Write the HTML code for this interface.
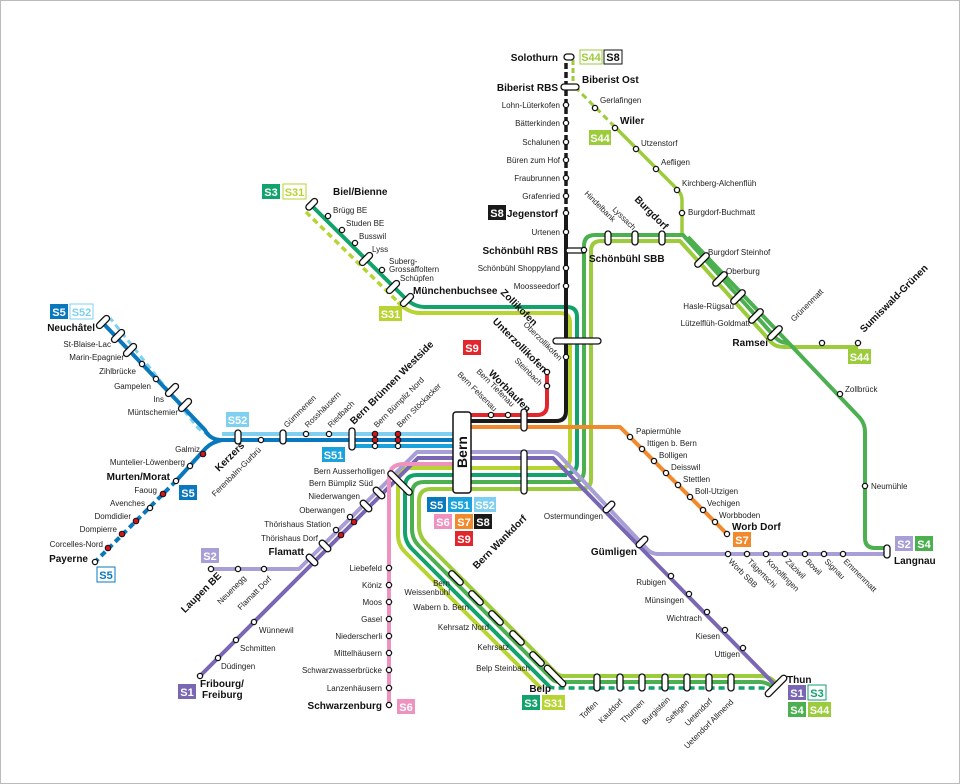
<!DOCTYPE html>
<html><head><meta charset="utf-8"><style>
html,body{margin:0;padding:0;background:#fff}
svg{display:block}
text{font-family:"Liberation Sans",sans-serif;font-size:8px;fill:#222}
.b{font-weight:bold;font-size:10px;fill:#111}
.bt{font-weight:bold;font-size:11px;fill:#fff}
.st{fill:#fff;stroke:#111;stroke-width:1.3}
.cp{fill:#fff;stroke:#111;stroke-width:1.3}
.rd{fill:#d0151c;stroke:#111;stroke-width:1}
path,line,polyline{fill:none;stroke-linejoin:round;stroke-linecap:butt}
</style></head><body>
<svg width="960" height="784" viewBox="0 0 960 784" xmlns="http://www.w3.org/2000/svg">
<rect x="0.5" y="0.5" width="959" height="783" fill="#fff" stroke="#bbb"/>

<path d="M573 60 V86" stroke="#9ccb3b" stroke-width="3" stroke-dasharray="5 3"/>
<path d="M575 87 L612 124" stroke="#9ccb3b" stroke-width="3" stroke-dasharray="6 4"/>
<path d="M612 124 L677 189 Q682 194 682 200 V236" stroke="#9ccb3b" stroke-width="3.5"/>
<path d="M584 470 V246 Q584 235 595 235 H683 L775 337 Q780 343 788 343" stroke="#4caf50" stroke-width="4"/>
<path d="M591 480 V251 Q591 241 601 241 H680 L772 343 Q776 347 784 347 H858" stroke="#9ccb3b" stroke-width="4"/>
<path d="M688 237 L860 418 Q865 424 865 432 V538 Q865 548 875 548 H886" stroke="#4caf50" stroke-width="4"/>

<path d="M311 205 L405 298 Q414 307 425 307 H567 Q577 307 577 317 V463 Q577 473 567 473" stroke="#12a26b" stroke-width="4"/>
<path d="M306 212 L398 302" stroke="#b8d432" stroke-width="3.5" stroke-dasharray="6 4"/>
<path d="M398 302 Q408 313 420 313 H560 Q570 313 570 323 V458 Q570 468 560 468" stroke="#b8d432" stroke-width="4"/>

<path d="M560 468 H410 Q398 468 398 480 V535 Q398 545 405 552 L541 688" stroke="#b8d432" stroke-width="4"/>
<path d="M567 475 H417 Q405 475 405 487 V532 Q405 542 412 549 L549 686" stroke="#12a26b" stroke-width="4"/>
<path d="M549 686 Q551 688 556 688 H762 Q768 688 774 694" stroke="#12a26b" stroke-width="3.5" stroke-dasharray="6 4"/>
<path d="M584 470 Q584 482 572 482 H424 Q412 482 412 494 V529 Q412 539 419 546 L552 679 Q555 682 560 682 H760 Q768 682 776 690" stroke="#4caf50" stroke-width="4"/>
<path d="M591 480 Q591 489 579 489 H431 Q419 489 419 501 V526 Q419 536 426 543 L556 673 Q559 676 564 676 H762 Q770 676 778 685" stroke="#9ccb3b" stroke-width="4"/>

<path d="M222 434 H453" stroke="#7fd0f0" stroke-width="4"/>
<path d="M210 434 Q204 434 198 428 L110 318" stroke="#7fd0f0" stroke-width="3" stroke-dasharray="6 4"/>
<path d="M100 320 L205 430 Q210 440 222 440 H453" stroke="#0a78bd" stroke-width="4"/>
<path d="M222 440 Q212 442 206 448 L176 481" stroke="#0a78bd" stroke-width="4"/>
<path d="M176 481 L95 562" stroke="#0a78bd" stroke-width="4" stroke-dasharray="6 4"/>
<path d="M352 446 H453" stroke="#1aa2dc" stroke-width="4"/>

<path d="M470 415 H537 Q547 415 547 405 V372" stroke="#e1272d" stroke-width="4"/>
<path d="M470 421 H556 Q566 421 566 411 V213" stroke="#1a1a1a" stroke-width="4"/>
<path d="M566 213 V60" stroke="#1a1a1a" stroke-width="3.5" stroke-dasharray="6 3"/>
<path d="M470 427 H620 L727 534" stroke="#f08a2c" stroke-width="4"/>

<path d="M211 569 H299 L417 452 H552 Q556 452 560 456 L646 548 Q651 554 658 554 H886" stroke="#a79fd6" stroke-width="4"/>
<path d="M200 676 L418 458 H553 L778 688" stroke="#7a67b4" stroke-width="4"/>
<path d="M453 464 H404 Q389 464 389 479 V705" stroke="#ee92c0" stroke-width="4"/>

<rect x="453" y="412" width="18" height="81" rx="3" fill="#fff" stroke="#111" stroke-width="1.5"/>
<text transform="translate(467,452) rotate(-90)" text-anchor="middle" class="b" style="font-size:14px">Bern</text>

<g class="cp">
<rect x="564" y="54" width="10" height="6" rx="3"/>
<rect x="561" y="84" width="18" height="6" rx="3"/>
<rect x="566" y="248" width="20" height="5" rx="2.5"/>
<rect x="553" y="338" width="48" height="6" rx="3"/>
<rect x="521" y="409" width="6" height="22" rx="3"/>
<rect x="521" y="450" width="6" height="44" rx="3"/>
<rect x="349" y="428" width="6" height="22" rx="3"/>
<rect x="235" y="430" width="6" height="14" rx="3"/>
<rect x="280" y="430" width="6" height="14" rx="3"/>
<rect x="605" y="231" width="6" height="14" rx="3"/>
<rect x="632" y="231" width="6" height="14" rx="3"/>
<rect x="659" y="231" width="6" height="14" rx="3"/>
<rect x="884" y="545" width="6" height="13" rx="3"/>
<rect x="594" y="674" width="6" height="17" rx="3"/>
<rect x="617" y="674" width="6" height="17" rx="3"/>
<rect x="639" y="674" width="6" height="17" rx="3"/>
<rect x="662" y="674" width="6" height="17" rx="3"/>
<rect x="684" y="674" width="6" height="17" rx="3"/>
<rect x="706" y="674" width="6" height="17" rx="3"/>
<rect x="728" y="674" width="6" height="17" rx="3"/>
</g>
<g class="cp">
<rect x="-3" y="-8" width="6" height="16" rx="3" transform="translate(103,322) rotate(45)"/>
<rect x="-3" y="-8" width="6" height="16" rx="3" transform="translate(118,336) rotate(45)"/>
<rect x="-3" y="-8" width="6" height="16" rx="3" transform="translate(130,350) rotate(45)"/>
<rect x="-3" y="-8" width="6" height="16" rx="3" transform="translate(172,390) rotate(45)"/>
<rect x="-3" y="-8" width="6" height="16" rx="3" transform="translate(185,405) rotate(45)"/>
<rect x="-3" y="-8" width="6" height="14" rx="3" transform="translate(311,205) rotate(45)"/>
<rect x="-3" y="-8" width="6" height="16" rx="3" transform="translate(366,259) rotate(45)"/>
<rect x="-3" y="-8" width="6" height="16" rx="3" transform="translate(393,287) rotate(45)"/>
<rect x="-3" y="-8" width="6" height="16" rx="3" transform="translate(407,300) rotate(45)"/>
<rect x="-3" y="-9" width="6" height="18" rx="3" transform="translate(702,260) rotate(45)"/>
<rect x="-3" y="-9" width="6" height="18" rx="3" transform="translate(720,279) rotate(45)"/>
<rect x="-3" y="-9" width="6" height="18" rx="3" transform="translate(738,297) rotate(45)"/>
<rect x="-3" y="-9" width="6" height="18" rx="3" transform="translate(756,316) rotate(45)"/>
<rect x="-3" y="-9" width="6" height="18" rx="3" transform="translate(775,333) rotate(45)"/>
<rect x="-3" y="-7" width="6" height="14" rx="3" transform="translate(609,507) rotate(45)"/>
<rect x="-3" y="-7" width="6" height="14" rx="3" transform="translate(642,542) rotate(45)"/>
<rect x="-3" y="-16" width="6" height="32" rx="3" transform="translate(400,483) rotate(-45)"/>
<rect x="-3" y="-7" width="6" height="14" rx="3" transform="translate(379,493) rotate(-45)"/>
<rect x="-3" y="-7" width="6" height="14" rx="3" transform="translate(366,506) rotate(-45)"/>
<rect x="-3" y="-7" width="6" height="14" rx="3" transform="translate(325,546) rotate(-45)"/>
<rect x="-3" y="-7" width="6" height="14" rx="3" transform="translate(312,560) rotate(-45)"/>
<rect x="-3" y="-9" width="6" height="18" rx="3" transform="translate(456,578) rotate(-45)"/>
<rect x="-3" y="-9" width="6" height="18" rx="3" transform="translate(476,598) rotate(-45)"/>
<rect x="-3" y="-9" width="6" height="18" rx="3" transform="translate(496,618) rotate(-45)"/>
<rect x="-3" y="-9" width="6" height="18" rx="3" transform="translate(517,638) rotate(-45)"/>
<rect x="-3" y="-9" width="6" height="18" rx="3" transform="translate(537,659) rotate(-45)"/>
<rect x="-3" y="-14" width="6" height="28" rx="3" transform="translate(555,676) rotate(-45)"/>
<rect x="-3" y="-14" width="6" height="28" rx="3" transform="translate(776,686) rotate(-135)"/>
</g>

<g class="st">
<circle cx="566" cy="105" r="2.6"/><circle cx="566" cy="123" r="2.6"/><circle cx="566" cy="142" r="2.6"/><circle cx="566" cy="160" r="2.6"/><circle cx="566" cy="178" r="2.6"/><circle cx="566" cy="196" r="2.6"/><circle cx="566" cy="213" r="2.6"/><circle cx="566" cy="232" r="2.6"/><circle cx="566" cy="268" r="2.6"/><circle cx="566" cy="286" r="2.6"/><circle cx="566" cy="357" r="2.6"/>
<circle cx="584" cy="250" r="2.6"/>
<circle cx="595" cy="108" r="2.6"/><circle cx="615" cy="128" r="2.6"/><circle cx="636" cy="149" r="2.6"/><circle cx="656" cy="169" r="2.6"/><circle cx="677" cy="190" r="2.6"/><circle cx="682" cy="213" r="2.6"/>
<circle cx="822" cy="343" r="2.6"/><circle cx="858" cy="343" r="2.6"/><circle cx="840" cy="394" r="2.6"/><circle cx="865" cy="486" r="2.6"/>
<circle cx="547" cy="372" r="2.6"/><circle cx="547" cy="386" r="2.6"/><circle cx="491" cy="415" r="2.6"/><circle cx="508" cy="415" r="2.6"/>
<circle cx="630" cy="437" r="2.6"/><circle cx="642" cy="449" r="2.6"/><circle cx="654" cy="461" r="2.6"/><circle cx="666" cy="473" r="2.6"/><circle cx="678" cy="485" r="2.6"/><circle cx="690" cy="497" r="2.6"/><circle cx="703" cy="510" r="2.6"/><circle cx="715" cy="522" r="2.6"/><circle cx="727" cy="534" r="2.6"/>
<circle cx="728" cy="554" r="2.6"/><circle cx="747" cy="554" r="2.6"/><circle cx="766" cy="554" r="2.6"/><circle cx="785" cy="554" r="2.6"/><circle cx="805" cy="554" r="2.6"/><circle cx="824" cy="554" r="2.6"/><circle cx="843" cy="554" r="2.6"/>
<circle cx="671" cy="576" r="2.6"/><circle cx="689" cy="594" r="2.6"/><circle cx="707" cy="612" r="2.6"/><circle cx="725" cy="630" r="2.6"/><circle cx="743" cy="648" r="2.6"/>
<circle cx="389" cy="568" r="2.6"/><circle cx="389" cy="585" r="2.6"/><circle cx="389" cy="602" r="2.6"/><circle cx="389" cy="619" r="2.6"/><circle cx="389" cy="636" r="2.6"/><circle cx="389" cy="653" r="2.6"/><circle cx="389" cy="670" r="2.6"/><circle cx="389" cy="688" r="2.6"/><circle cx="389" cy="705" r="2.6"/>
<circle cx="211" cy="569" r="2.6"/><circle cx="238" cy="569" r="2.6"/><circle cx="264" cy="569" r="2.6"/>
<circle cx="254" cy="622" r="2.6"/><circle cx="236" cy="640" r="2.6"/><circle cx="218" cy="658" r="2.6"/><circle cx="200" cy="676" r="2.6"/>
<circle cx="350" cy="517" r="2.6"/><circle cx="336" cy="530" r="2.6"/>
<circle cx="328" cy="216" r="2.6"/><circle cx="342" cy="230" r="2.6"/><circle cx="355" cy="243" r="2.6"/><circle cx="382" cy="270" r="2.6"/>
<circle cx="142" cy="364" r="2.6"/><circle cx="156" cy="379" r="2.6"/>
<circle cx="190" cy="466" r="2.6"/><circle cx="176" cy="481" r="2.6"/><circle cx="150" cy="508" r="2.6"/><circle cx="95" cy="562" r="2.6"/>
<circle cx="261" cy="440" r="2.6"/><circle cx="306" cy="434" r="2.6"/><circle cx="329" cy="434" r="2.6"/><circle cx="375" cy="446" r="2.6"/><circle cx="398" cy="446" r="2.6"/>
</g>
<g class="rd">
<circle cx="203" cy="454" r="2.8"/><circle cx="163" cy="494" r="2.8"/><circle cx="136" cy="521" r="2.8"/><circle cx="122" cy="534" r="2.8"/><circle cx="108" cy="548" r="2.8"/>
<circle cx="375" cy="434" r="2.8"/><circle cx="375" cy="440" r="2.8"/><circle cx="398" cy="434" r="2.8"/><circle cx="398" cy="440" r="2.8"/>
<circle cx="354" cy="522" r="2.8"/><circle cx="341" cy="535" r="2.8"/>
</g>

<g>
<rect x="580" y="50" width="22" height="14" fill="#fff" stroke="#9ccb3b"/><text x="591" y="61" text-anchor="middle" class="bt" style="fill:#9ccb3b">S44</text>
<rect x="604" y="50" width="18" height="14" fill="#fff" stroke="#111"/><text x="613" y="61" text-anchor="middle" class="bt" style="fill:#111">S8</text>
<rect x="589" y="130" width="22" height="15" fill="#9ccb3b"/><text x="600" y="142" text-anchor="middle" class="bt">S44</text>
<rect x="488" y="205" width="18" height="15" fill="#1a1a1a"/><text x="497" y="217" text-anchor="middle" class="bt">S8</text>
<rect x="262" y="184" width="18" height="15" fill="#12a26b"/><text x="271" y="196" text-anchor="middle" class="bt">S3</text>
<rect x="283" y="184" width="23" height="15" fill="#fff" stroke="#b8d432"/><text x="294.5" y="196" text-anchor="middle" class="bt" style="fill:#b8d432">S31</text>
<rect x="379" y="306" width="23" height="15" fill="#b8d432"/><text x="390.5" y="318" text-anchor="middle" class="bt">S31</text>
<rect x="50" y="304" width="18" height="15" fill="#0a78bd"/><text x="59" y="316" text-anchor="middle" class="bt">S5</text>
<rect x="70" y="304" width="23" height="15" fill="#fff" stroke="#7fd0f0"/><text x="81.5" y="316" text-anchor="middle" class="bt" style="fill:#7fd0f0">S52</text>
<rect x="226" y="412" width="23" height="15" fill="#7fd0f0"/><text x="237.5" y="424" text-anchor="middle" class="bt">S52</text>
<rect x="322" y="447" width="23" height="15" fill="#1aa2dc"/><text x="333.5" y="459" text-anchor="middle" class="bt">S51</text>
<rect x="179" y="485" width="18" height="15" fill="#0a78bd"/><text x="188" y="497" text-anchor="middle" class="bt">S5</text>
<rect x="97" y="567" width="18" height="15" fill="#fff" stroke="#0a78bd"/><text x="106" y="579" text-anchor="middle" class="bt" style="fill:#0a78bd">S5</text>
<rect x="463" y="340" width="18" height="15" fill="#e1272d"/><text x="472" y="352" text-anchor="middle" class="bt">S9</text>
<rect x="427" y="497" width="19" height="15" fill="#0a78bd"/><text x="436.5" y="509" text-anchor="middle" class="bt">S5</text>
<rect x="448" y="497" width="24" height="15" fill="#1aa2dc"/><text x="460" y="509" text-anchor="middle" class="bt">S51</text>
<rect x="474" y="497" width="22" height="15" fill="#7fd0f0"/><text x="485" y="509" text-anchor="middle" class="bt">S52</text>
<rect x="434" y="514" width="18" height="15" fill="#ee92c0"/><text x="443" y="526" text-anchor="middle" class="bt">S6</text>
<rect x="455" y="514" width="18" height="15" fill="#f08a2c"/><text x="464" y="526" text-anchor="middle" class="bt">S7</text>
<rect x="474" y="514" width="18" height="15" fill="#1a1a1a"/><text x="483" y="526" text-anchor="middle" class="bt">S8</text>
<rect x="455" y="531" width="18" height="15" fill="#e1272d"/><text x="464" y="543" text-anchor="middle" class="bt">S9</text>
<rect x="733" y="532" width="18" height="15" fill="#f08a2c"/><text x="742" y="544" text-anchor="middle" class="bt">S7</text>
<rect x="848" y="349" width="23" height="15" fill="#9ccb3b"/><text x="859.5" y="361" text-anchor="middle" class="bt">S44</text>
<rect x="895" y="536" width="18" height="15" fill="#a79fd6"/><text x="904" y="548" text-anchor="middle" class="bt">S2</text>
<rect x="915" y="536" width="18" height="15" fill="#4caf50"/><text x="924" y="548" text-anchor="middle" class="bt">S4</text>
<rect x="201" y="548" width="18" height="15" fill="#a79fd6"/><text x="210" y="560" text-anchor="middle" class="bt">S2</text>
<rect x="178" y="684" width="18" height="15" fill="#7a67b4"/><text x="187" y="696" text-anchor="middle" class="bt">S1</text>
<rect x="397" y="699" width="18" height="15" fill="#ee92c0"/><text x="406" y="711" text-anchor="middle" class="bt">S6</text>
<rect x="522" y="695" width="18" height="15" fill="#12a26b"/><text x="531" y="707" text-anchor="middle" class="bt">S3</text>
<rect x="542" y="695" width="23" height="15" fill="#b8d432"/><text x="553.5" y="707" text-anchor="middle" class="bt">S31</text>
<rect x="788" y="685" width="18" height="15" fill="#7a67b4"/><text x="797" y="697" text-anchor="middle" class="bt">S1</text>
<rect x="808" y="685" width="18" height="15" fill="#fff" stroke="#12a26b"/><text x="817" y="697" text-anchor="middle" class="bt" style="fill:#12a26b">S3</text>
<rect x="788" y="702" width="18" height="15" fill="#4caf50"/><text x="797" y="714" text-anchor="middle" class="bt">S4</text>
<rect x="808" y="702" width="23" height="15" fill="#9ccb3b"/><text x="819.5" y="714" text-anchor="middle" class="bt">S44</text>
</g>

<g text-anchor="end">
<text x="558" y="61" class="b">Solothurn</text>
<text x="558" y="91" class="b">Biberist RBS</text>
<text x="560" y="108">Lohn-Lüterkofen</text>
<text x="560" y="126">Bätterkinden</text>
<text x="560" y="145">Schalunen</text>
<text x="560" y="163">Büren zum Hof</text>
<text x="560" y="181">Fraubrunnen</text>
<text x="560" y="199">Grafenried</text>
<text x="558" y="217" class="b">Jegenstorf</text>
<text x="560" y="235">Urtenen</text>
<text x="558" y="254" class="b">Schönbühl RBS</text>
<text x="560" y="271">Schönbühl Shoppyland</text>
<text x="560" y="289">Moosseedorf</text>
<text x="95" y="331" class="b">Neuchâtel</text>
<text x="111" y="347">St-Blaise-Lac</text>
<text x="124" y="360">Marin-Epagnier</text>
<text x="136" y="374">Zihlbrücke</text>
<text x="151" y="389">Gampelen</text>
<text x="164" y="402">Ins</text>
<text x="178" y="415">Müntschemier</text>
<text x="200" y="452">Galmiz</text>
<text x="185" y="465">Muntelier-Löwenberg</text>
<text x="170" y="480" class="b">Murten/Morat</text>
<text x="157" y="493">Faoug</text>
<text x="145" y="506">Avenches</text>
<text x="131" y="519">Domdidier</text>
<text x="117" y="532">Dompierre</text>
<text x="103" y="547">Corcelles-Nord</text>
<text x="88" y="562" class="b">Payerne</text>
<text x="385" y="474">Bern Ausserholligen</text>
<text x="373" y="486">Bern Bümpliz Süd</text>
<text x="360" y="499">Niederwangen</text>
<text x="345" y="513">Oberwangen</text>
<text x="331" y="527">Thörishaus Station</text>
<text x="318" y="541">Thörishaus Dorf</text>
<text x="304" y="555" class="b">Flamatt</text>
<text x="382" y="571">Liebefeld</text>
<text x="382" y="588">Köniz</text>
<text x="382" y="605">Moos</text>
<text x="382" y="622">Gasel</text>
<text x="382" y="639">Niederscherli</text>
<text x="382" y="656">Mittelhäusern</text>
<text x="382" y="673">Schwarzwasserbrücke</text>
<text x="382" y="691">Lanzenhäusern</text>
<text x="382" y="709" class="b">Schwarzenburg</text>
<text x="450" y="586">Bern</text>
<text x="450" y="595">Weissenbühl</text>
<text x="469" y="610">Wabern b. Bern</text>
<text x="489" y="630">Kehrsatz Nord</text>
<text x="509" y="650">Kehrsatz</text>
<text x="530" y="671">Belp Steinbach</text>
<text x="551" y="692" class="b">Belp</text>
<text x="603" y="519">Ostermundingen</text>
<text x="637" y="555" class="b">Gümligen</text>
<text x="666" y="585">Rubigen</text>
<text x="684" y="603">Münsingen</text>
<text x="702" y="621">Wichtrach</text>
<text x="720" y="639">Kiesen</text>
<text x="740" y="657">Uttigen</text>
<text x="734" y="309">Hasle-Rügsau</text>
<text x="750" y="326">Lützelflüh-Goldmatt</text>
<text x="768" y="346" class="b">Ramsei</text>
</g>
<g>
<text x="582" y="83" class="b">Biberist Ost</text>
<text x="600" y="103">Gerlafingen</text>
<text x="620" y="124" class="b">Wiler</text>
<text x="641" y="146">Utzenstorf</text>
<text x="661" y="165">Aefligen</text>
<text x="682" y="186">Kirchberg-Alchenflüh</text>
<text x="688" y="215">Burgdorf-Buchmatt</text>
<text x="589" y="262" class="b">Schönbühl SBB</text>
<text x="708" y="255">Burgdorf Steinhof</text>
<text x="726" y="274">Oberburg</text>
<text x="845" y="392">Zollbrück</text>
<text x="871" y="489">Neumühle</text>
<text x="894" y="564" class="b">Langnau</text>
<text x="333" y="195" class="b">Biel/Bienne</text>
<text x="333" y="213">Brügg BE</text>
<text x="346" y="226">Studen BE</text>
<text x="359" y="239">Busswil</text>
<text x="372" y="252">Lyss</text>
<text x="389" y="264">Suberg-</text>
<text x="389" y="272">Grossaffoltern</text>
<text x="400" y="281">Schüpfen</text>
<text x="413" y="294" class="b">Münchenbuchsee</text>
<text x="636" y="434">Papiermühle</text>
<text x="647" y="446">Ittigen b. Bern</text>
<text x="659" y="458">Bolligen</text>
<text x="671" y="470">Deisswil</text>
<text x="683" y="482">Stettlen</text>
<text x="695" y="494">Boll-Utzigen</text>
<text x="707" y="506">Vechigen</text>
<text x="719" y="518">Worbboden</text>
<text x="732" y="530" class="b">Worb Dorf</text>
<text x="787" y="683" class="b">Thun</text>
<text x="200" y="687" class="b">Fribourg/</text>
<text x="202" y="698" class="b">Freiburg</text>
<text x="259" y="633">Wünnewil</text>
<text x="240" y="651">Schmitten</text>
<text x="221" y="669">Düdingen</text>
</g>
<g>
<text transform="translate(584,194) rotate(45)">Hindelbank</text>
<text transform="translate(612,210) rotate(45)">Lyssach</text>
<text transform="translate(634,200) rotate(45)" class="b">Burgdorf</text>
<text transform="translate(794,322) rotate(-45)">Grünenmatt</text>
<text transform="translate(864,333) rotate(-45)" class="b">Sumiswald-Grünen</text>
<text transform="translate(500,293) rotate(45)" class="b">Zollikofen</text>
<text transform="translate(523,325) rotate(45)">Oberzollikofen</text>
<text transform="translate(492,322) rotate(45)" class="b">Unterzollikofen</text>
<text transform="translate(514,361) rotate(45)">Steinbach</text>
<text transform="translate(488,374) rotate(45)" class="b">Worblaufen</text>
<text transform="translate(476,372) rotate(45)">Bern Tiefenau</text>
<text transform="translate(457,375) rotate(45)">Bern Felsenau</text>
<text transform="translate(354,425) rotate(-45)" class="b">Bern Brünnen Westside</text>
<text transform="translate(377,428) rotate(-45)">Bern Bümpliz Nord</text>
<text transform="translate(400,428) rotate(-45)">Bern Stöckacker</text>
<text transform="translate(287,428) rotate(-45)">Gümmenen</text>
<text transform="translate(308,428) rotate(-45)">Rosshäusern</text>
<text transform="translate(331,428) rotate(-45)">Riedbach</text>
<text transform="translate(219,472) rotate(-45)" class="b">Kerzers</text>
<text transform="translate(215,497) rotate(-45)">Ferenbalm-Gurbrü</text>
<text transform="translate(209,578) rotate(-45)" class="b" x="-42" y="8">Laupen BE</text>
<text transform="translate(236,578) rotate(-45)" x="-30" y="8">Neuenegg</text>
<text transform="translate(262,578) rotate(-45)" x="-38" y="8">Flamatt Dorf</text>
<text transform="translate(510,525) rotate(-45)" class="b" x="-55" y="8">Bern Wankdorf</text>
<text transform="translate(728,562) rotate(45)">Worb SBB</text>
<text transform="translate(747,562) rotate(45)">Tägertschi</text>
<text transform="translate(766,562) rotate(45)">Konolfingen</text>
<text transform="translate(785,562) rotate(45)">Zäziwil</text>
<text transform="translate(805,562) rotate(45)">Bowil</text>
<text transform="translate(824,562) rotate(45)">Signau</text>
<text transform="translate(843,562) rotate(45)">Emmenmatt</text>
<text transform="translate(600,694) rotate(-45)" x="-30" y="6">Toffen</text>
<text transform="translate(623,694) rotate(-45)" x="-36" y="6">Kaufdorf</text>
<text transform="translate(645,694) rotate(-45)" x="-36" y="6">Thurnen</text>
<text transform="translate(668,694) rotate(-45)" x="-38" y="6">Burgistein</text>
<text transform="translate(690,694) rotate(-45)" x="-36" y="6">Seftigen</text>
<text transform="translate(712,694) rotate(-45)" x="-40" y="6">Uetendorf</text>
<text transform="translate(734,694) rotate(-45)" x="-72" y="6">Uetendorf Allmend</text>
</g>
</svg>
</body></html>
